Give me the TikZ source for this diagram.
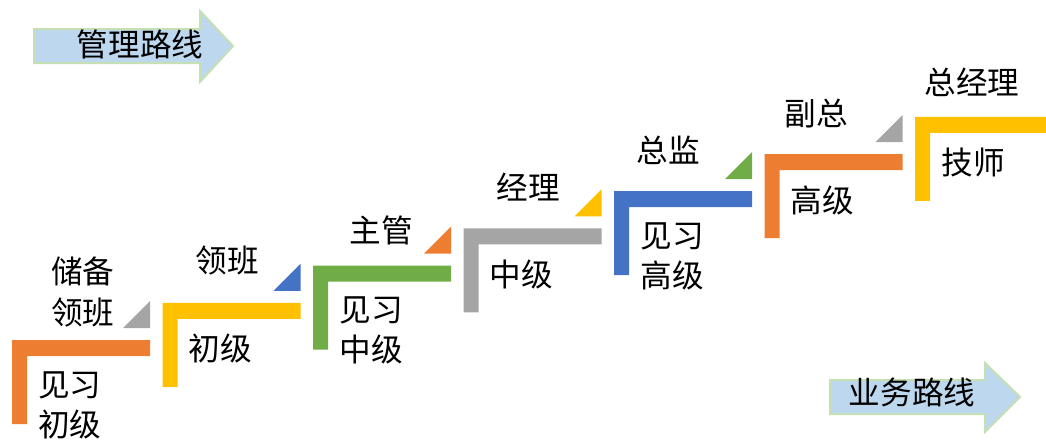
\documentclass[tikz,border=0pt]{standalone}
\usepackage{fontspec}
\newfontfamily\cjk{Noto Sans CJK SC}
\definecolor{orng}{HTML}{ED7D31}
\definecolor{ylw}{HTML}{FFC000}
\definecolor{grn}{HTML}{70AD47}
\definecolor{gry}{HTML}{A5A5A5}
\definecolor{blu}{HTML}{4472C4}
\definecolor{routefill}{HTML}{BDD7EE}
\definecolor{routeline}{HTML}{C5E0B4}

\begin{document}
\begin{tikzpicture}[
        x=0.02cm, y=-0.02cm,
        every node/.style={font=\cjk\fontsize{18}{22.8}\selectfont, align=center, inner sep=0pt},
        route/.style={fill=routefill, draw=routeline, line width=0.04cm}
        ]
    \useasboundingbox (0,0) rectangle (1046,443);
    % stairs with the rank inside
    \foreach \i/\c/\w/\t in {0/orng/138/{见习\\初级}, 1/ylw/138/初级, 2/grn/138/{见习\\中级},
            3/gry/138/中级, 4/blu/138/{见习\\高级}, 5/orng/138/高级, 6/ylw/131/技师}
    {
        \pgfmathsetmacro\L{12+150.5*\i}
        \pgfmathsetmacro\T{340-37.2*\i}
        \fill[\c] (\L,\T) -- ++(\w,0) -- ++(0,16) -- ++(-\w+15,0) -- ++(0,68) -- ++(-15,0) -- cycle;
        \node[anchor=north] (rank\i) at (\L+58,\T+31) {\t};
    }
    % small corners
    \foreach \i/\c in {0/gry, 1/blu, 2/orng, 3/ylw, 4/grn, 5/gry}
    {
        \pgfmathsetmacro\R{150+150.5*\i}
        \pgfmathsetmacro\T{340-37.2*\i}
        \fill[\c] (\R,\T-12) -- ++(-27,0) -- ++(27,-27) -- cycle;
    }
    % posts
    \node (post0) at (83,292) {储备\\领班};
    \node (post1) at (227,261) {领班};
    \node (post2) at (381,230) {主管};
    \node (post3) at (528,187) {经理};
    \node (post4) at (668,150) {总监};
    \node (post5) at (816,114) {副总};
    \node (post6) at (972,82) {总经理};
    % the two routes
    \draw[route] (34,29) -- (200,29) -- (200,11) -- (233,46) -- (200,82) -- (200,63) -- (34,63) -- cycle;
    \node (manage) at (140,44) {管理路线};
    \draw[route] (830,380) -- (985,380) -- (985,363) -- (1020,397) -- (985,432) -- (985,414) -- (830,414) -- cycle;
    \node (business) at (912,392) {业务路线};
\end{tikzpicture}
\end{document}
